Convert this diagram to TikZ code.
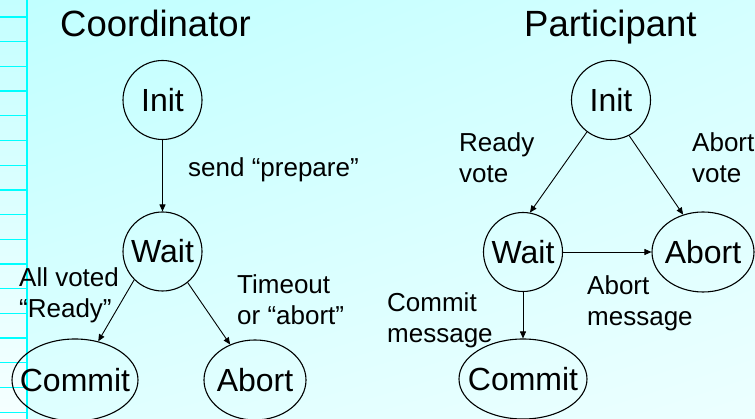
\documentclass[tikz,border=0pt]{standalone}
\usepackage{fontspec}
\setmainfont{Liberation Sans}
\usetikzlibrary{shapes.geometric,arrows.meta,shadings}

\definecolor{bgUL}{HTML}{C0FFFF}
\definecolor{bgUR}{HTML}{D4FFFF}
\definecolor{bgLL}{HTML}{DEFFFF}
\definecolor{bgLR}{HTML}{ECFFFF}
\definecolor{stripTop}{HTML}{C4FFFF}
\definecolor{stripBot}{HTML}{F6FFFF}
\definecolor{rule}{HTML}{00FFFF}

\newcommand\titlefont{\fontsize{36.5}{40}\selectfont}
\newcommand\statefont{\fontsize{32}{36}\selectfont}
\newcommand\notefont{\fontsize{26}{31.5}\selectfont}

\begin{document}
\begin{tikzpicture}[x=1pt,y=-1pt,
  state/.style={draw, circle, line width=1.1pt, minimum size=79pt,
                inner sep=0pt, font=\statefont},
  oval/.style={draw, ellipse, line width=1.1pt, inner sep=0pt,
               label={[font=\statefont, inner sep=0pt]center:#1}},
  flow/.style={-{Triangle[length=7pt,width=6pt]}, line width=0.9pt},
  note/.style={anchor=north west, inner sep=0pt, align=left, font=\notefont},
  heading/.style={anchor=base west, inner sep=0pt, font=\titlefont},
  gridline/.style={draw=rule, line width=1.3pt}]

\useasboundingbox (0,0) rectangle (755,419);

% background
\shade[upper left=bgUL, upper right=bgUR, lower left=bgLL, lower right=bgLR]
  (0,0) rectangle (755,419);

% ruled margin strip
\shade[top color=stripTop, bottom color=stripBot] (0,0) rectangle (27,419);
\foreach \k in {0,...,16}
  \draw[gridline] (0,{17+24.7*\k}) -- (26,{17+24.7*\k});
\draw[draw=rule, line width=2pt] (27,0) -- (27,419);

% headings
\node[heading] (htc) at (60,37) {Coordinator};
\node[heading] (htp) at (524,37) {Participant};

% coordinator states
\node[state] (cinit) at (162.5,100) {Init};
\node[state] (cwait) at (162.5,251.5) {Wait};
\node[oval=Commit, minimum width=126pt, minimum height=82pt] (ccommit) at (75,380) {};
\node[oval=Abort, minimum width=102pt, minimum height=80pt] (cabort) at (255,380) {};

% participant states
\node[state] (pinit) at (611,100) {Init};
\node[state] (pwait) at (523,252) {Wait};
\node[oval=Abort, minimum width=102pt, minimum height=80pt] (pabort) at (703,252) {};
\node[oval=Commit, minimum width=128pt, minimum height=80pt] (pcommit) at (523,379) {};

% coordinator transitions
\draw[flow] (cinit) -- (cwait);
\draw[flow] (cwait.225) -- (ccommit.59);
\draw[flow] (cwait.309) -- (cabort.125);

% participant transitions
\draw[flow] (pinit.233) -- (pwait.80);
\draw[flow] (pinit.297) -- (pabort.118);
\draw[flow] (pwait) -- (pabort);
\draw[flow] (pwait) -- (pcommit);

% transition labels
\node[note] (lprep) at (188,157) {send “prepare”};
\node[note] (lall) at (19,267) {All voted\\“Ready”};
\node[note] (ltime) at (237,274) {Timeout\\or “abort”};
\node[note] (lready) at (459,132) {Ready\\vote};
\node[note] (lavote) at (692,132) {Abort\\vote};
\node[note] (lamsg) at (587,275) {Abort\\message};
\node[note] (lcmsg) at (387,292) {Commit\\message};
\end{tikzpicture}
\end{document}
